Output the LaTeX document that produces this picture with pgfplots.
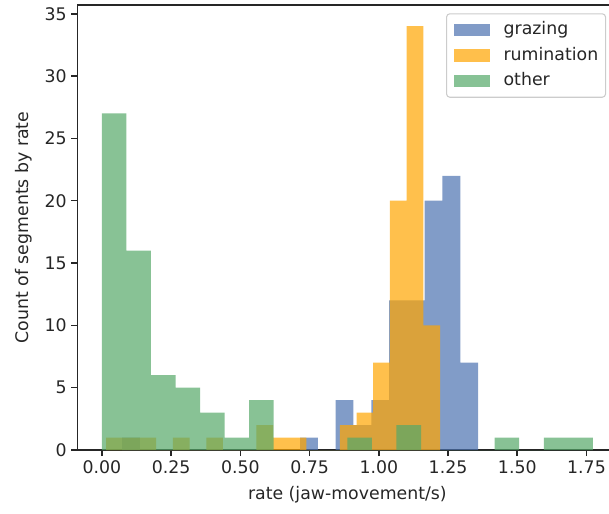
\documentclass[border=0pt]{standalone}
\usepackage{fontspec}
\setmainfont{DejaVu Sans}
\usepackage{pgfplots}
\pgfplotsset{compat=1.18}
\usetikzlibrary{calc}
\definecolor{graz}{RGB}{76,114,176}
\definecolor{rumi}{RGB}{255,165,0}
\definecolor{othr}{RGB}{85,168,104}
\definecolor{spine}{RGB}{38,38,38}
\definecolor{legframe}{RGB}{204,204,204}

\newcommand{\bigfont}{\fontsize{13}{15}\selectfont}

\pgfplotsset{
  histbar/.style={ybar interval, fill=#1, fill opacity=0.7, draw=none, forget plot},
  patch/.style={legend image code/.code={\path[fill=#1, fill opacity=0.7, draw=none, sharp corners] (0pt,-4.75pt) rectangle (26.8pt,4.75pt);}},
}

\begin{document}
\begin{tikzpicture}
\begin{axis}[
  name=ax,
  scale only axis,
  width=405.1pt, height=333.75pt,
  xmin=-0.0887, xmax=1.8617,
  ymin=0, ymax=35.7,
  xtick={0,0.25,0.5,0.75,1,1.25,1.5,1.75},
  ytick={0,5,10,15,20,25,30,35},
  tick pos=left,
  tick align=outside,
  major tick length=4.5pt,
  every tick/.style={spine, line width=1.2pt},
  axis line style={spine, line width=1.2pt},
  tick label style={font=\bigfont, text=spine},
  /pgf/number format/assume math mode=true,
  xticklabel style={/pgf/number format/.cd, fixed, fixed zerofill, precision=2},
  xlabel={rate (jaw-movement/s)},
  ylabel={Count of segments by rate},
  every axis x label/.style={at={(rel axis cs:0.5,0)}, anchor=center, yshift=-33.5pt, font=\bigfont, text=spine},
  every axis y label/.style={at={(rel axis cs:0,0.5)}, xshift=-40pt, rotate=90, anchor=center, font=\bigfont, text=spine},
  legend cell align=left,
  legend style={at={(1,1)}, anchor=north east, xshift=-8.5pt, yshift=-6.2pt,
    draw=legframe, line width=0.8pt, rounded corners=2.5pt,
    fill=white, fill opacity=0.8, text opacity=1,
    inner xsep=5.5pt, inner ysep=6pt, column sep=10.5pt, row sep=6.7pt,
    nodes={inner sep=0pt, font=\bigfont, text=spine, text height=9.8pt, text depth=2.6pt}},
]
\addlegendimage{patch=graz}
\addlegendimage{patch=rumi}
\addlegendimage{patch=othr}
% grazing: 20 bins, 0.0730 .. 1.3584
\addplot[histbar=graz] coordinates {
  (0.0730,1) (0.1373,0) (0.2015,0) (0.2658,0) (0.3301,0) (0.3944,0) (0.4586,0)
  (0.5229,0) (0.5872,0) (0.6514,0) (0.7157,1) (0.7800,0) (0.8443,4) (0.9085,2)
  (0.9728,4) (1.0371,12) (1.1013,12) (1.1656,20) (1.2299,22) (1.2941,7) (1.3584,0)
};
% rumination: 20 bins, 0.0155 .. 1.2210
\addplot[histbar=rumi] coordinates {
  (0.0155,1) (0.0758,1) (0.1361,1) (0.1963,0) (0.2566,1) (0.3169,0) (0.3772,1)
  (0.4374,0) (0.4977,0) (0.5580,2) (0.6183,1) (0.6785,1) (0.7388,0) (0.7991,0)
  (0.8594,2) (0.9196,3) (0.9799,7) (1.0402,20) (1.1005,34) (1.1607,10) (1.2210,0)
};
% other: 20 bins, 0 .. 1.773
\addplot[histbar=othr] coordinates {
  (0.0000,27) (0.0887,16) (0.1773,6) (0.2660,5) (0.3546,3) (0.4433,1) (0.5319,4)
  (0.6206,0) (0.7092,0) (0.7979,0) (0.8865,1) (0.9752,0) (1.0638,2) (1.1525,0)
  (1.2411,0) (1.3298,0) (1.4184,1) (1.5071,0) (1.5957,1) (1.6844,1) (1.7730,0)
};
\legend{grazing, rumination, other}
\end{axis}
\pgfresetboundingbox
\path[use as bounding box] ($(ax.south west)+(-57.975pt,-47.25pt)$) rectangle ($(ax.south west)+(398.775pt,337.5pt)$);
\end{tikzpicture}
\end{document}
